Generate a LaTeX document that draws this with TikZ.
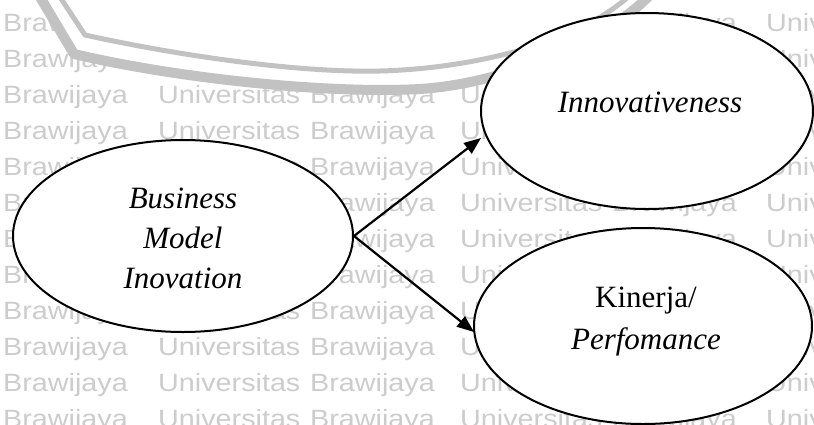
\documentclass[tikz,border=0pt]{standalone}
\usepackage{fontspec}
\setmainfont{Liberation Serif}
\newfontfamily\wmfont[FakeStretch=1.15]{Liberation Sans}
\usetikzlibrary{shapes.geometric,arrows.meta}

\begin{document}
\begin{tikzpicture}[x=1pt,y=-1pt,
  oval/.style={ellipse, draw=black, line width=2pt, fill=white, inner sep=0pt},
  lbl/.style={align=center, inner sep=0pt},
  wm/.style={font=\wmfont\fontsize{25}{25}\selectfont, text=gray!40, anchor=base west, inner sep=0pt},
  link/.style={line width=2.2pt, -{Triangle[length=17pt,width=13pt]}},
  crest/.style={draw=gray!48, line cap=round, line join=round}]
\useasboundingbox (0,0) rectangle (814,424);

% background watermark rows
\foreach \r in {0,...,11} {
  \pgfmathsetmacro{\yb}{31+36*\r}
  \foreach \xx/\w in {3/Brawijaya,158/Universitas,310/Brawijaya,460/Universitas,612/Brawijaya,766/Universitas}
    \node[wm] (wm-\r-\xx) at (\xx,\yb) {\w};
}

% crest: white body with its double rim
\fill[white] (38,-5) -- (74,54) .. controls (180,79) and (330,94) .. (420,89) .. controls (500,84) and (600,45) .. (650,-5) -- cycle;
\draw[crest, line width=5pt] (60,-3) -- (85,35) .. controls (180,56) and (300,73) .. (380,71) .. controls (460,69) and (570,48) .. (628,-3);
\draw[crest, line width=10pt] (40,-3) -- (74,54) .. controls (180,79) and (330,94) .. (420,89) .. controls (500,84) and (600,45) .. (648,-3);

% constructs
\node[oval, minimum width=340pt, minimum height=192pt] (bmi) at (183,236) {};
\node[oval, minimum width=332pt, minimum height=196pt] (inn) at (647,111) {};
\node[oval, minimum width=338pt, minimum height=196pt] (kin) at (643,326) {};

\node[lbl, font=\fontsize{31}{40}\selectfont] (bmit) at (183,238) {\textit{Business}\\\textit{Model}\\\textit{Inovation}};
\node[lbl, font=\fontsize{31}{42}\selectfont] (innt) at (650,102) {\textit{Innovativeness}};
\node[lbl, font=\fontsize{31}{42}\selectfont] (kint) at (646,322) {Kinerja/\\\textit{Perfomance}};

% relations
\coordinate (tipA) at (481,138);
\coordinate (tipB) at (474,332);
\draw[link] (bmi.east) -- (tipA);
\draw[link] (bmi.east) -- (tipB);
\end{tikzpicture}
\end{document}
